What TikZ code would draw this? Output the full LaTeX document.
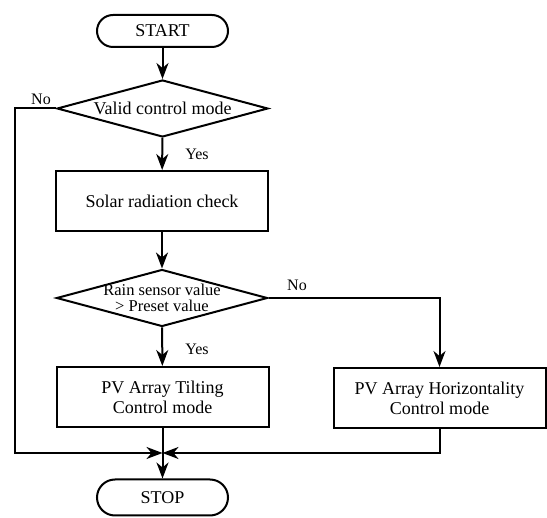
\documentclass[tikz,border=0pt]{standalone}
\usepackage{fontspec}
\setmainfont{Liberation Serif}
\newfontfamily\tnr{Liberation Serif}
\usetikzlibrary{shapes.geometric,arrows.meta}
\begin{document}
\begin{tikzpicture}[x=1pt,y=-1pt,
  base/.style={draw=black,line width=2pt,font=\tnr\fontsize{18}{20}\selectfont,align=center,inner sep=0pt},
  term/.style={base,rectangle,rounded corners=16pt,minimum width=131pt,minimum height=32pt},
  procbox/.style={base,rectangle,minimum width=212pt,minimum height=60pt},
  decision/.style={base,diamond,shape aspect=3.7,minimum width=211pt,minimum height=57pt},
  lbl/.style={font=\tnr\fontsize{16}{18}\selectfont,inner sep=0pt},
  arr/.style={line width=2pt,-{Stealth[length=16pt,width=12pt,inset=5pt]}}]
\useasboundingbox (0,0) rectangle (547,518);
\node[term] (start) at (162.5,31) {START};
\node[decision] (d1) at (162.5,108.5) {Valid control mode};
\node[procbox] (solar) at (162,201) {Solar radiation check};
\node[decision,font=\tnr\fontsize{16.5}{16.5}\selectfont,inner sep=-3pt] (d2) at (162,298) {Rain sensor value\\ \textgreater{} Preset value};
\node[procbox] (tilt) at (162.5,397) {PV Array Tilting\\Control mode};
\node[procbox] (horiz) at (439.5,398) {PV Array Horizontality\\Control mode};
\node[term,minimum height=36pt,rounded corners=18pt] (stop) at (162.5,497.5) {STOP};
\coordinate (j) at (162.5,453);
\coordinate (lc) at (15,453);
\node[lbl] (no1) at (41,99) {No};
\node[lbl] (yes1) at (197,154) {Yes};
\node[lbl] (yes2) at (197,349) {Yes};
\node[lbl] (no2) at (297,285) {No};
\draw[arr] (start) -- (d1);
\draw[arr] (d1) -- (solar);
\draw[arr] (solar) -- (d2);
\draw[arr] (d2) -- (tilt);
\draw[arr] (d2.east) -| (horiz.north);
\draw[arr] (d1.west) -| (lc) -- (j);
\draw[arr] (horiz.south) |- (j);
\draw[arr] (tilt.south) -- (stop.north);
\end{tikzpicture}
\end{document}
